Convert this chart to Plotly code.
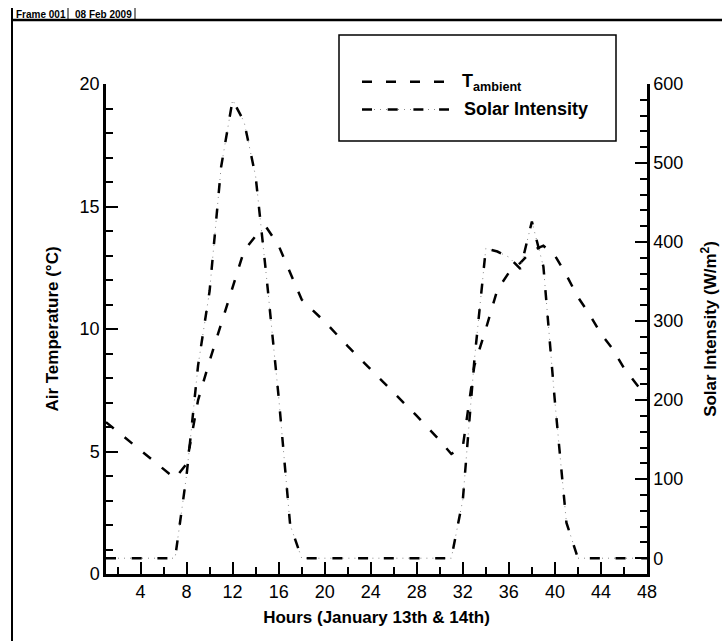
import plotly.graph_objects as go

# ---------------- data ----------------
hours_T = [1, 7, 8, 9, 10, 11, 12, 13, 14, 15, 16, 17, 18, 20, 22, 24, 26, 28, 30, 31,
           32, 33, 34, 35, 36, 37, 38, 39, 40, 41, 42, 43, 44, 45, 46, 47, 48]
T_ambient = [6.2, 3.9, 4.5, 7.1, 8.7, 10.2, 11.7, 13.2, 13.8, 14.1, 13.4, 12.3, 11.2, 10.3,
             9.3, 8.35, 7.4, 6.45, 5.45, 4.9, 5.2, 8.5, 10.0, 11.6, 12.3, 12.7, 13.2, 13.4,
             13.0, 12.2, 11.3, 10.6, 9.8, 9.2, 8.4, 7.8, 7.2]

hours_S = [1, 7, 8, 9, 10, 11, 12, 13, 14, 15, 16, 17, 18, 31, 32, 33, 34, 35, 36, 37,
           38, 39, 40, 41, 42, 48]
solar = [0, 0, 105, 244, 338, 495, 580, 552, 483, 348, 204, 42, 0, 0, 74, 250, 392, 388,
         381, 366, 426, 369, 198, 45, 0, 0]

x_ticks = [4, 8, 12, 16, 20, 24, 28, 32, 36, 40, 44, 48]

FONT = "Liberation Sans, Arial, sans-serif"
W, H = 722, 641
L, R, T, B = 106, 75, 84, 67
PW, PH = W - L - R, H - T - B


def px(x):
    return (x - L) / PW


def py(y):
    return (H - B - y) / PH


fig = go.Figure()

# temperature: dashed
fig.add_trace(go.Scatter(x=hours_T, y=T_ambient, mode="lines", name="T ambient",
                         line=dict(color="black", width=2.5, dash="10px,14px"),
                         showlegend=False, yaxis="y"))
# solar: grey dotted underlay + black dashes
fig.add_trace(go.Scatter(x=hours_S, y=solar, mode="lines", name="Solar Intensity dots",
                         line=dict(color="#8a8a8a", width=1, dash="1px,5px"),
                         showlegend=False, yaxis="y2"))
fig.add_trace(go.Scatter(x=hours_S, y=solar, mode="lines", name="Solar Intensity",
                         line=dict(color="black", width=2.5, dash="10px,15.7px"),
                         showlegend=False, yaxis="y2"))

axis_common = dict(showline=True, linecolor="black", linewidth=2.5, ticks="inside",
                   ticklen=12, tickwidth=2, tickcolor="black", showgrid=False,
                   zeroline=False, automargin=False,
                   tickfont=dict(family=FONT, size=18, color="black"))

fig.update_layout(
    width=W, height=H,
    margin=dict(l=L, r=R, t=T, b=B, pad=0, autoexpand=False),
    paper_bgcolor="white", plot_bgcolor="white",
    font=dict(family=FONT, color="black"),
    xaxis=dict(range=[1, 48], tickmode="array", tickvals=x_ticks,
               minor=dict(dtick=2, tick0=0, ticklen=7, tickwidth=1.5, ticks="inside",
                          tickcolor="black"),
               title=dict(text="<b>Hours (January 13th & 14th)</b>",
                          font=dict(family=FONT, size=17), standoff=10),
               **axis_common),
    yaxis=dict(range=[0, 20], tickmode="linear", tick0=0, dtick=5,
               minor=dict(dtick=1, tick0=0, ticklen=7, tickwidth=1.5, ticks="inside",
                          tickcolor="black"),
               title=dict(text="<b>Air Temperature (°C)</b>",
                          font=dict(family=FONT, size=17), standoff=17),
               **axis_common),
    yaxis2=dict(range=[-20, 600], overlaying="y", side="right", anchor="x",
                tickmode="linear", tick0=0, dtick=100,
                minor=dict(dtick=20, tick0=0, ticklen=7, tickwidth=1.5, ticks="inside",
                           tickcolor="black"),
                title=dict(text="<b>Solar Intensity (W/m<sup>2</sup>)</b>",
                           font=dict(family=FONT, size=17), standoff=22),
                **axis_common),
)

shapes = []
# outer frame
shapes.append(dict(type="line", xref="paper", yref="paper", x0=px(12), x1=px(12),
                   y0=py(8), y1=py(645), line=dict(color="black", width=2)))
shapes.append(dict(type="line", xref="paper", yref="paper", x0=px(12), x1=px(722),
                   y0=py(20), y1=py(20), line=dict(color="black", width=2.5)))
for sx in (68, 135):
    shapes.append(dict(type="line", xref="paper", yref="paper", x0=px(sx), x1=px(sx),
                       y0=py(8), y1=py(20), line=dict(color="black", width=1)))
# legend box
shapes.append(dict(type="rect", xref="paper", yref="paper", x0=px(339), x1=px(616),
                   y0=py(35), y1=py(141), line=dict(color="black", width=1.5),
                   fillcolor="white"))
# legend samples
shapes.append(dict(type="line", xref="paper", yref="paper", x0=px(362), x1=px(449),
                   y0=py(81.7), y1=py(81.7),
                   line=dict(color="black", width=2.5, dash="10px,14px")))
shapes.append(dict(type="line", xref="paper", yref="paper", x0=px(362), x1=px(449),
                   y0=py(109.5), y1=py(109.5),
                   line=dict(color="#8a8a8a", width=1, dash="1px,5px")))
shapes.append(dict(type="line", xref="paper", yref="paper", x0=px(362), x1=px(449),
                   y0=py(109.5), y1=py(109.5),
                   line=dict(color="black", width=2.5, dash="10px,15.7px")))
fig.update_layout(shapes=shapes)

ann = [
    dict(text="<b>T<sub>ambient</sub></b>", x=px(460), y=py(83), xanchor="left",
         yanchor="middle", font=dict(family=FONT, size=18, color="black")),
    dict(text="<b>Solar Intensity</b>", x=px(462), y=py(109.5), xanchor="left",
         yanchor="middle", font=dict(family=FONT, size=18, color="black")),
    dict(text="<b>Frame 001</b>", x=px(14), y=py(14), xanchor="left", yanchor="middle",
         font=dict(family=FONT, size=10, color="black")),
    dict(text="<b>08 Feb 2009</b>", x=px(73), y=py(14), xanchor="left", yanchor="middle",
         font=dict(family=FONT, size=10, color="black")),
]
for a in ann:
    a.update(xref="paper", yref="paper", showarrow=False)
fig.update_layout(annotations=ann)

fig.write_html("out.html")
